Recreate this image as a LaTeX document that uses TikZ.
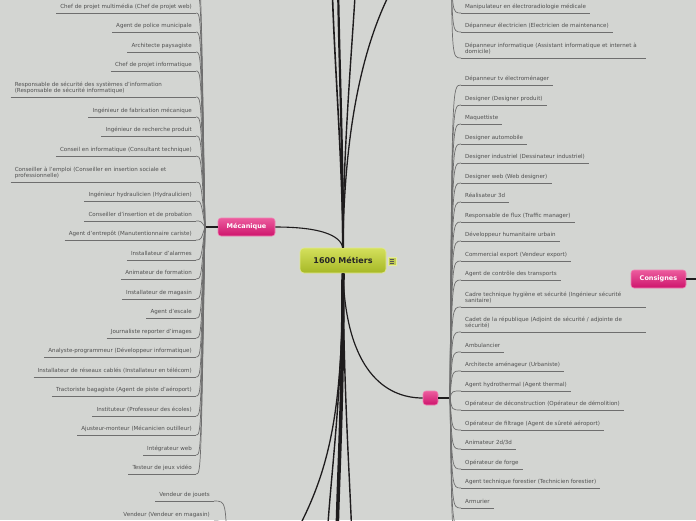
\documentclass[tikz,border=0pt]{standalone}
\usepackage{fontspec}
\setmainfont{DejaVu Sans}
\usepackage{tikz}
\usetikzlibrary{calc}
\definecolor{mapbg}{RGB}{211,213,210}
\definecolor{maptext}{RGB}{80,80,80}
\definecolor{mapline}{RGB}{110,110,110}
\definecolor{maptrunk}{RGB}{30,28,29}
\definecolor{mappinktop}{RGB}{236,92,158}
\definecolor{mappinkbot}{RGB}{206,20,108}
\definecolor{mappinkedge}{RGB}{240,130,180}
\definecolor{maplimetop}{RGB}{212,224,92}
\definecolor{maplimebot}{RGB}{166,184,38}
\newcommand{\jobfont}{\fontsize{5.55}{6.3}\selectfont}
\tikzset{
  item/.style={font=\jobfont, text=maptext, inner xsep=4pt, inner ysep=1pt, text depth=3pt},
  leftjob/.style={item, anchor=south east},
  rightjob/.style={item, anchor=south west},
  oneline/.style={},
  twoline/.style={text width=177pt, align=left, text depth=9.3pt},
  uline/.style={mapline, line width=0.8pt},
  twig/.style={mapline, line width=0.7pt},
  trunk/.style={maptrunk, line width=#1},
  trunk/.default=1.4pt,
  topic/.style={rounded corners=3pt, top color=mappinktop, bottom color=mappinkbot,
    draw=mappinkedge, line width=0.6pt, text=white,
    font=\bfseries\fontsize{6.5}{7}\selectfont, minimum height=18pt, inner sep=0pt}
}

\begin{document}
\begin{tikzpicture}[x=1pt, y=-1pt]

  % === CANVAS ===
  \useasboundingbox (0,0) rectangle (696,520);
  \fill[mapbg] (0,0) rectangle (696,520);
  \clip (0,0) rectangle (696,520);

  % === CENTRAL TOPIC AND MAIN BRANCHES ===
  \node[rounded corners=4pt, top color=maplimetop, bottom color=maplimebot,
    draw=maplimetop!70!white, line width=0.6pt, minimum width=86pt,
    minimum height=25pt, inner sep=0pt, text=black!85,
    font=\bfseries\fontsize{8}{9}\selectfont] (root) at (343,260.5)
    {1600 Métiers};
  \node[fill=maplimetop!90!black, draw=maplimetop!60!white, line width=0.4pt,
    minimum size=8pt, inner sep=0pt] (rootnote) at (392,261) {};
  \foreach \d in {-1.8,0,1.8}
    \draw[maptrunk!75, line width=0.6pt]
      ($(rootnote.center)+(-2.2,\d)$) -- ($(rootnote.center)+(2.2,\d)$);

  \node[topic, minimum width=57pt] (meca) at (246.5,227) {Mécanique};
  \node[topic, minimum width=15pt, minimum height=14pt] (blank) at (430.5,398) {};
  \node[topic, minimum width=55pt] (consignes) at (658.5,279) {Consignes};

  \coordinate (mecahub) at (205,227);
  \coordinate (blankhub) at (450,398);
  \coordinate (tophub) at (451,-60);
  \coordinate (venthub) at (227,560);
  \coordinate (consout) at (700,279);

  % branches leaving the top of the root
  \draw[trunk=1.6pt] (root.north) .. controls (342,150) and (334,60) .. (332,-20);
  \draw[trunk=2.2pt] (root.north) .. controls (343,150) and (339,60) .. (338,-20);
  \draw[trunk=1.4pt] (root.north) .. controls (343,150) and (352,50) .. (356,-20);
  \draw[trunk=1.3pt] (root.north) .. controls (344,140) and (360,40) .. (400,-25);
  \draw[trunk=1.1pt] (meca.east) .. controls (320,227) and (340,235) .. (root.north);

  % branches leaving the bottom of the root
  \draw[trunk=3.5pt] (root.south) .. controls (343,400) and (338,480) .. (337,540);
  \draw[trunk=1.4pt] (root.south) .. controls (342,400) and (330,480) .. (327,540);
  \draw[trunk=1.4pt] (root.south) .. controls (344,400) and (350,480) .. (352,540);
  \draw[trunk=1.3pt] (root.south) .. controls (342,420) and (330,480) .. (280,560);
  \draw[trunk=1.2pt] (root.south) .. controls (346,370) and (385,398) .. (blank.west);

  % stubs to the hubs
  \draw[trunk=1.6pt] (meca.west) -- (mecahub);
  \draw[trunk=1.6pt] (blank.east) -- (blankhub);
  \draw[trunk=1.4pt] (consignes.east) -- (consout);

  % === MECANIQUE (left) ===
  \foreach \y/\s/\t [count=\i] in {
    13/oneline/{Chef de projet multimédia (Chef de projet web)},
    32/oneline/{Agent de police municipale},
    52/oneline/{Architecte paysagiste},
    71/oneline/{Chef de projet informatique},
    97/twoline/{Responsable de sécurité des systèmes d'information\\(Responsable de sécurité informatique)},
    117/oneline/{Ingénieur de fabrication mécanique},
    136/oneline/{Ingénieur de recherche produit},
    156/oneline/{Conseil en informatique (Consultant technique)},
    182/twoline/{Conseiller à l'emploi (Conseiller en insertion sociale et\\professionnelle)},
    201/oneline/{Ingénieur hydraulicien (Hydraulicien)},
    221/oneline/{Conseiller d'insertion et de probation},
    240/oneline/{Agent d'entrepôt (Manutentionnaire cariste)},
    260/oneline/{Installateur d'alarmes},
    279/oneline/{Animateur de formation},
    299/oneline/{Installateur de magasin},
    318/oneline/{Agent d'escale},
    338/oneline/{Journaliste reporter d'images},
    357/oneline/{Analyste-programmeur (Développeur informatique)},
    377/oneline/{Installateur de réseaux cablés (Installateur en télécom)},
    396/oneline/{Tractoriste bagagiste (Agent de piste d'aéroport)},
    416/oneline/{Instituteur (Professeur des écoles)},
    435/oneline/{Ajusteur-monteur (Mécanicien outilleur)},
    455/oneline/{Intégrateur web},
    474/oneline/{Testeur de jeux vidéo}} {
    \node[leftjob, \s] (meca\i) at (196,\y) {\t};
    \draw[uline] (meca\i.south west) -- (meca\i.south east);
    \draw[twig] (mecahub) .. controls (201,\y) .. (meca\i.south east);
  }
  % children above the frame
  \foreach \y in {-7,-26}
    \draw[twig] (mecahub) .. controls (201,\y) .. (196,\y);

  % === UNNAMED PINK TOPIC (right) ===
  \foreach \y/\s/\t [count=\i] in {
    85/oneline/{Dépanneur tv électroménager},
    105/oneline/{Designer (Designer produit)},
    124/oneline/{Maquettiste},
    144/oneline/{Designer automobile},
    163/oneline/{Designer industriel (Dessinateur industriel)},
    183/oneline/{Designer web (Web designer)},
    202/oneline/{Réalisateur 3d},
    222/oneline/{Responsable de flux (Traffic manager)},
    241/oneline/{Développeur humanitaire urbain},
    261/oneline/{Commercial export (Vendeur export)},
    280/oneline/{Agent de contrôle des transports},
    307/twoline/{Cadre technique hygiène et sécurité (Ingénieur sécurité\\sanitaire)},
    332/twoline/{Cadet de la république (Adjoint de sécurité / adjointe de\\sécurité)},
    352/oneline/{Ambulancier},
    371/oneline/{Architecte aménageur (Urbaniste)},
    391/oneline/{Agent hydrothermal (Agent thermal)},
    410/oneline/{Opérateur de déconstruction (Opérateur de démolition)},
    430/oneline/{Opérateur de filtrage (Agent de sûreté aéroport)},
    449/oneline/{Animateur 2d/3d},
    469/oneline/{Opérateur de forge},
    488/oneline/{Agent technique forestier (Technicien forestier)},
    508/oneline/{Armurier}} {
    \node[rightjob, \s] (blank\i) at (461,\y) {\t};
    \draw[uline] (blank\i.south west) -- (blank\i.south east);
    \draw[twig] (blankhub) .. controls (452,\y) .. (blank\i.south west);
  }
  % children below the frame
  \foreach \y in {527,547}
    \draw[twig] (blankhub) .. controls (452,\y) .. (461,\y);

  % === BRANCH ABOVE THE FRAME (right) ===
  \foreach \y/\s/\t [count=\i] in {
    13/oneline/{Manipulateur en électroradiologie médicale},
    32/oneline/{Dépanneur électricien (Electricien de maintenance)},
    58/twoline/{Dépanneur informatique (Assistant informatique et internet à\\domicile)}} {
    \node[rightjob, \s] (depan\i) at (461,\y) {\t};
    \draw[uline] (depan\i.south west) -- (depan\i.south east);
    \draw[twig] (tophub) .. controls (452,\y) .. (depan\i.south west);
  }

  % === BRANCH BELOW THE FRAME (left) ===
  \foreach \y/\t [count=\i] in {
    501/{Vendeur de jouets},
    521/{Vendeur (Vendeur en magasin)}} {
    \node[leftjob] (vente\i) at (214,\y) {\t};
    \draw[uline] (vente\i.south west) -- (vente\i.south east);
    \draw[twig] (venthub) .. controls (226,\y) .. (vente\i.south east);
  }

\end{tikzpicture}
\end{document}
